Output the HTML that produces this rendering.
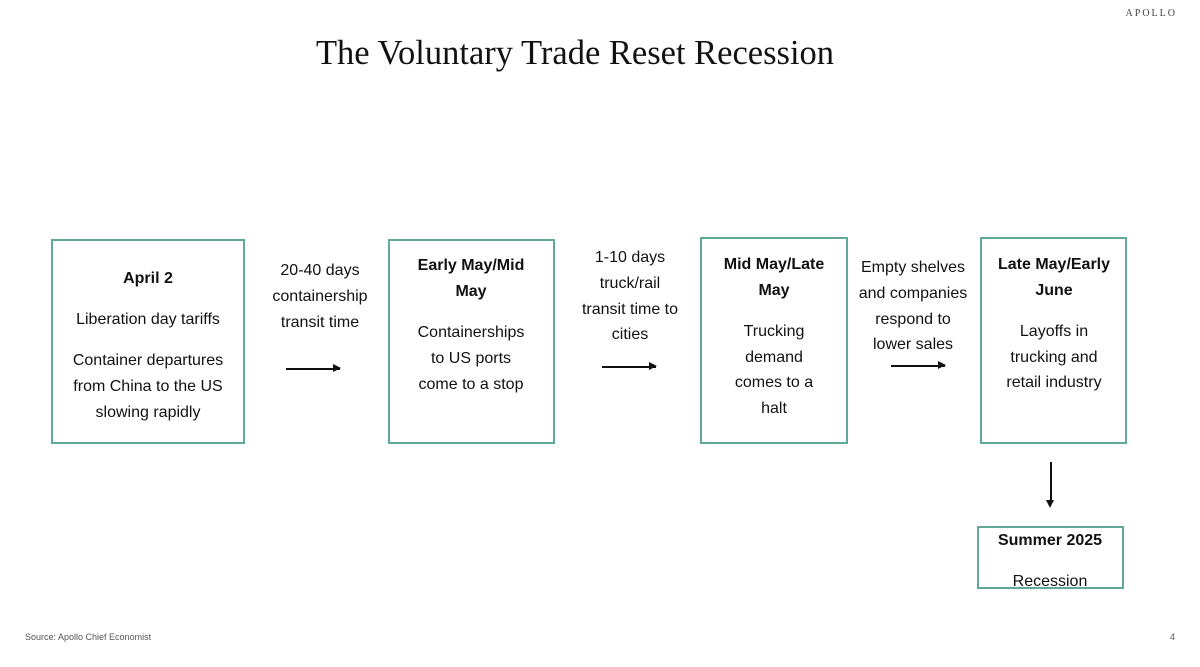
<!DOCTYPE html>
<html><head><meta charset="utf-8"><style>
body{margin:0;width:1200px;height:667px;background:#fff;position:relative;overflow:hidden;font-family:"Liberation Sans",sans-serif;color:#111}
.b{position:absolute;border:2px solid #5fa89a;box-sizing:border-box}
.t{position:absolute;width:240px;text-align:center;font-size:16px;line-height:20px;white-space:nowrap;margin-top:2px}
.bd{font-weight:bold}
.a{position:absolute;height:1.5px;background:#111}
.a::after{content:"";position:absolute;right:-1px;top:-4px;border-left:8px solid #111;border-top:4.5px solid transparent;border-bottom:4.5px solid transparent}
</style></head><body>
<div style="position:absolute;left:0;width:1150px;top:34px;text-align:center;font-family:'Liberation Serif',serif;font-size:34.5px">The Voluntary Trade Reset Recession</div>
<div style="position:absolute;right:23px;top:8px;font-family:'Liberation Serif',serif;font-size:10px;letter-spacing:2px;color:#444">APOLLO</div>
<div style="position:absolute;left:25px;top:632px;font-size:9px;color:#555">Source: Apollo Chief Economist</div>
<div style="position:absolute;left:1170px;top:632px;font-size:9px;color:#555">4</div>

<div class="b" style="left:51px;top:239px;width:194px;height:205px"></div>
<div class="b" style="left:388px;top:239px;width:167px;height:205px"></div>
<div class="b" style="left:700px;top:237px;width:148px;height:207px"></div>
<div class="b" style="left:980px;top:237px;width:147px;height:207px"></div>
<div class="b" style="left:977px;top:526px;width:147px;height:63px"></div>

<div class="a" style="left:286px;top:368px;width:54px"></div>
<div class="a" style="left:602px;top:366px;width:54px"></div>
<div class="a" style="left:891px;top:365px;width:54px"></div>
<div style="position:absolute;left:1050px;top:462px;width:1.5px;height:40px;background:#111"></div>
<div style="position:absolute;left:1046px;top:500px;border-top:8px solid #111;border-left:4.5px solid transparent;border-right:4.5px solid transparent"></div>

<div class="t bd" style="left:28px;top:267px">April 2</div>
<div class="t" style="left:28px;top:308px">Liberation day tariffs</div>
<div class="t" style="left:28px;top:349px">Container departures</div>
<div class="t" style="left:28px;top:375px">from China to the US</div>
<div class="t" style="left:28px;top:401px">slowing rapidly</div>

<div class="t" style="left:200px;top:259px">20-40 days</div>
<div class="t" style="left:200px;top:285px">containership</div>
<div class="t" style="left:200px;top:311px">transit time</div>

<div class="t bd" style="left:351px;top:254px">Early May/Mid</div>
<div class="t bd" style="left:351px;top:280px">May</div>
<div class="t" style="left:351px;top:321px">Containerships</div>
<div class="t" style="left:351px;top:347px">to US ports</div>
<div class="t" style="left:351px;top:373px">come to a stop</div>

<div class="t" style="left:510px;top:246px">1-10 days</div>
<div class="t" style="left:510px;top:272px">truck/rail</div>
<div class="t" style="left:510px;top:298px">transit time to</div>
<div class="t" style="left:510px;top:323px">cities</div>

<div class="t bd" style="left:654px;top:253px">Mid May/Late</div>
<div class="t bd" style="left:654px;top:279px">May</div>
<div class="t" style="left:654px;top:320px">Trucking</div>
<div class="t" style="left:654px;top:346px">demand</div>
<div class="t" style="left:654px;top:371px">comes to a</div>
<div class="t" style="left:654px;top:397px">halt</div>

<div class="t" style="left:793px;top:256px">Empty shelves</div>
<div class="t" style="left:793px;top:282px">and companies</div>
<div class="t" style="left:793px;top:308px">respond to</div>
<div class="t" style="left:793px;top:333px">lower sales</div>

<div class="t bd" style="left:934px;top:253px">Late May/Early</div>
<div class="t bd" style="left:934px;top:279px">June</div>
<div class="t" style="left:934px;top:320px">Layoffs in</div>
<div class="t" style="left:934px;top:346px">trucking and</div>
<div class="t" style="left:934px;top:371px">retail industry</div>

<div class="t bd" style="left:930px;top:529px">Summer 2025</div>
<div class="t" style="left:930px;top:570px">Recession</div>
</body></html>
